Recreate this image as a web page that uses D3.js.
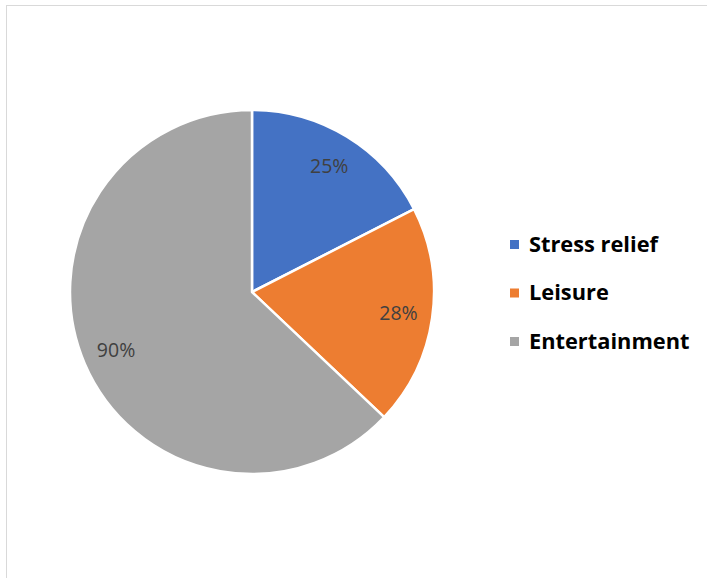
<!DOCTYPE html>
<html>
<head>
<meta charset="utf-8">
<script src="https://cdn.jsdelivr.net/npm/d3@7"></script>
<style>
  html, body { margin: 0; padding: 0; background: #fff; }
  svg { display: block; }
</style>
</head>
<body>
<svg id="chart" width="707" height="578"></svg>
<script>
// Reasons for use, with share labels
const categories = ["Stress relief", "Leisure", "Entertainment"];
const values = [25, 28, 90];
const labels = ["25%", "28%", "90%"];
const colors = ["#4472C4", "#ED7D31", "#A5A5A5"];

const svg = d3.select("#chart");

// chart area frame
svg.append("rect")
  .attr("x", 6.5).attr("y", 5.5)
  .attr("width", 720).attr("height", 600)
  .attr("fill", "#fff")
  .attr("stroke", "#D9D9D9")
  .attr("stroke-width", 1);

const cx = 252, cy = 292, r = 182;

const pie = d3.pie().sort(null).value(d => d)(values);
const arc = d3.arc().innerRadius(0).outerRadius(r);
const labelArc = d3.arc().innerRadius(148).outerRadius(148);

const g = svg.append("g").attr("transform", `translate(${cx},${cy})`);

g.selectAll("path.slice")
  .data(pie)
  .join("path")
  .attr("class", "slice")
  .attr("d", arc)
  .attr("fill", (d, i) => colors[i])
  .attr("stroke", "#fff")
  .attr("stroke-width", 2.5)
  .attr("stroke-linejoin", "round");

g.selectAll("text.lbl")
  .data(pie)
  .join("text")
  .attr("class", "lbl")
  .attr("transform", d => `translate(${labelArc.centroid(d)})`)
  .attr("text-anchor", "middle")
  .attr("dy", "0.35em")
  .attr("font-family", "'Open Sans', 'Liberation Sans', sans-serif")
  .attr("font-size", 19.5)
  .attr("fill", "#404040")
  .text((d, i) => labels[i]);

// legend
const legend = svg.append("g").attr("transform", "translate(510,244)");
const rows = legend.selectAll("g")
  .data(categories)
  .join("g")
  .attr("transform", (d, i) => `translate(0,${i * 48.5})`);

rows.append("rect")
  .attr("x", 0).attr("y", -4)
  .attr("width", 9).attr("height", 9)
  .attr("fill", (d, i) => colors[i]);

rows.append("text")
  .attr("x", 19)
  .attr("dy", "0.35em")
  .attr("font-family", "'Open Sans', 'Liberation Sans', sans-serif")
  .attr("font-weight", "bold")
  .attr("font-size", 21.8)
  .attr("fill", "#000")
  .text(d => d);
</script>
</body>
</html>
